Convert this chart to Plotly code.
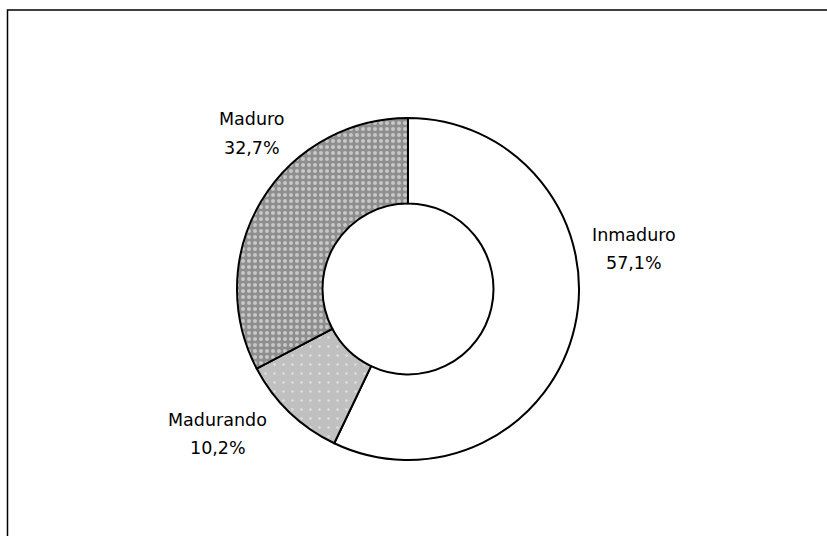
import plotly.graph_objects as go

categories = ["Inmaduro", "Madurando", "Maduro"]
values = [57.1, 10.2, 32.7]
pct_texts = ["57,1%", "10,2%", "32,7%"]

W, H = 827, 536
cx, cy, R = 408, 289, 171

fig = go.Figure()
fig.add_trace(go.Pie(
    labels=categories,
    values=values,
    sort=False,
    direction="clockwise",
    rotation=0,
    hole=0.50,
    textinfo="none",
    hoverinfo="label+percent",
    showlegend=False,
    domain=dict(x=[(cx - R) / W, (cx + R) / W], y=[(H - cy - R) / H, (H - cy + R) / H]),
    marker=dict(
        colors=["#ffffff", "#c0c0c0", "#8e8e8e"],
        line=dict(color="#000000", width=2),
        pattern=dict(
            shape=["", ".", "."],
            bgcolor=["#ffffff", "#c0c0c0", "#8e8e8e"],
            fgcolor=["#ffffff", "#ffffff", "#ffffff"],
            fillmode="overlay",
            size=[8, 9, 6],
            solidity=[0.2, 0.06, 0.35],
        ),
    ),
))

# label centres (name line, percent line)
label_pos = [(634, 234, 262), (218, 419, 447), (252, 118, 147)]
font = dict(family="DejaVu Sans", size=17.5, color="#000000")
for name, pct, (x, y1, y2) in zip(categories, pct_texts, label_pos):
    for txt, y in ((name, y1), (pct, y2)):
        fig.add_annotation(
            x=x / W, y=1 - (y + 1) / H, xref="paper", yref="paper",
            text=txt, showarrow=False, align="center", font=font,
            xanchor="center", yanchor="middle",
        )

fig.add_shape(type="rect", xref="paper", yref="paper",
              x0=7.5 / W, x1=1.02, y0=-0.02, y1=1 - 10 / H,
              line=dict(color="#000000", width=1.5), fillcolor="rgba(0,0,0,0)")

fig.update_layout(
    width=W, height=H,
    margin=dict(l=0, r=0, t=0, b=0),
    paper_bgcolor="#ffffff",
    plot_bgcolor="#ffffff",
)

fig.write_html("out.html", config={"displayModeBar": False},
               post_script="document.body.style.margin='0px';document.body.style.overflow='hidden';")
